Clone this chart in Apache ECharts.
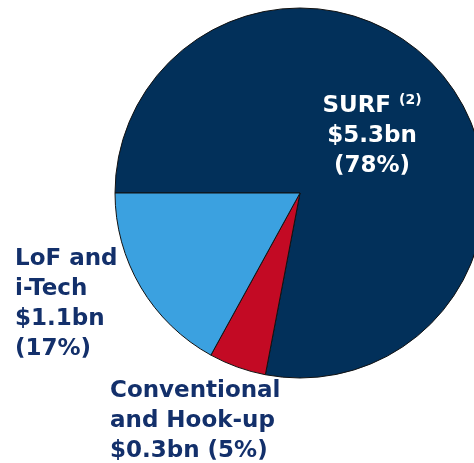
<!DOCTYPE html>
<html>
<head>
<meta charset="utf-8">
<script src="https://cdn.jsdelivr.net/npm/echarts@6/dist/echarts.min.js"></script>
<style>
  html, body { margin: 0; padding: 0; background: #fff; }
  #main { width: 474px; height: 463px; }
</style>
</head>
<body>
<div id="main"></div>
<script>
// segment data
var segments = ['SURF', 'Conventional and Hook-up', 'LoF and i-Tech'];
var revenueBn = [5.3, 0.3, 1.1];
var sharePct = [78, 5, 17];
var labelLines = [
    ['SURF {sup|(2)}', '$5.3bn', '(78%)'],
    ['Conventional', 'and Hook-up', '$0.3bn (5%)'],
    ['LoF and', 'i-Tech', '$1.1bn', '(17%)']
];
var colors = ['#02305a', '#c30a24', '#3ba1e0'];

var myChart = echarts.init(document.getElementById('main'));

var labelPos = [
    { x: 372, y: 136, align: 'center' },
    { x: 110, y: 421, align: 'left' },
    { x: 15, y: 304, align: 'left' }
];

myChart.setOption({
    animation: false,
    series: [{
        type: 'pie',
        center: [300, 193],
        radius: 185,
        startAngle: 180,
        clockwise: true,
        avoidLabelOverlap: false,
        data: segments.map(function (name, i) {
            return {
                name: name,
                value: sharePct[i],
                itemStyle: { color: colors[i] },
                label: {
                    color: i === 0 ? '#ffffff' : '#13306b',
                    align: labelPos[i].align
                }
            };
        }),
        itemStyle: {
            borderColor: '#111',
            borderWidth: 1
        },
        label: {
            show: true,
            position: 'inside',
            fontFamily: 'DejaVu Sans',
            fontWeight: 'bold',
            fontSize: 23,
            lineHeight: 30,
            formatter: function (p) {
                return labelLines[p.dataIndex].join('\n');
            },
            rich: {
                sup: {
                    fontFamily: 'DejaVu Sans',
                    fontWeight: 'bold',
                    fontSize: 14,
                    color: '#ffffff',
                    padding: [0, 0, 12, 0]
                }
            }
        },
        labelLine: { show: false },
        labelLayout: function (params) {
            var p = labelPos[params.dataIndex];
            return {
                x: p.x,
                y: p.y,
                align: p.align,
                verticalAlign: 'middle'
            };
        }
    }]
});
</script>
</body>
</html>
